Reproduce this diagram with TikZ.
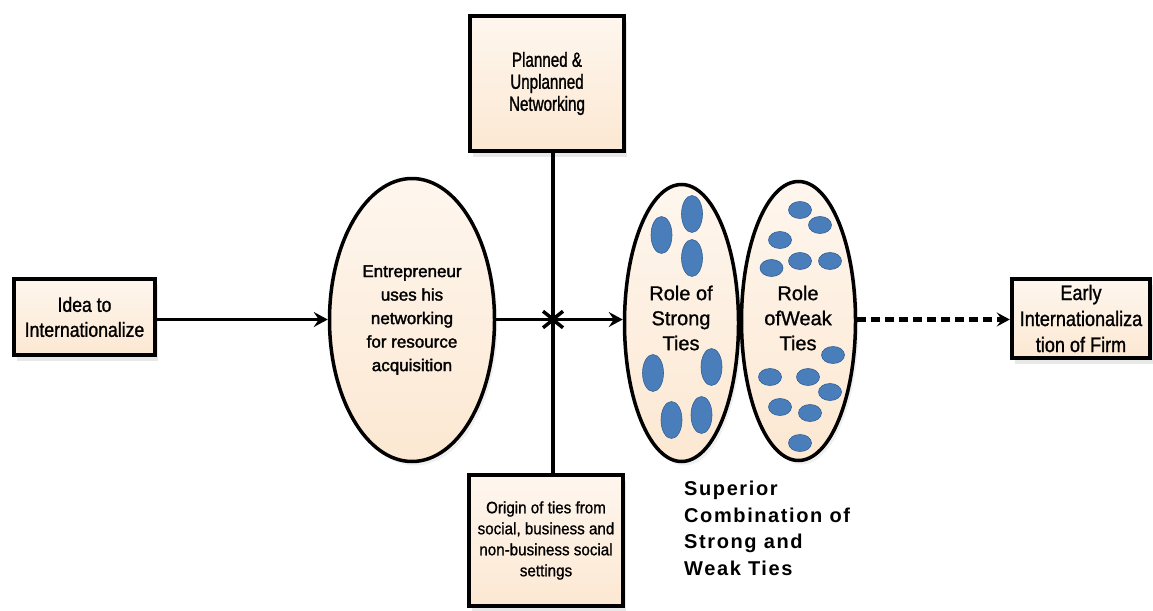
\documentclass[tikz,border=0pt]{standalone}
\usepackage{fontspec}
\setmainfont{Liberation Sans}
\newfontfamily\fnarrow[FakeStretch=0.86,FakeBold=1.2]{Liberation Sans}
\newfontfamily\fnarrower[FakeStretch=0.74,FakeBold=1.2]{Liberation Sans}
\newfontfamily\fslight[FakeStretch=0.92,FakeBold=1.0]{Liberation Sans}
\newfontfamily\fent[FakeBold=1.8]{Liberation Sans}
\newfontfamily\frole[FakeBold=1.0]{Liberation Sans}
\newfontfamily\fsup[LetterSpace=8]{Liberation Sans Bold}
\usetikzlibrary{arrows.meta,shapes.geometric,shadows}
\definecolor{peach}{RGB}{252,232,210}
\definecolor{peachlight}{RGB}{254,246,238}
\definecolor{dotblue}{RGB}{74,126,187}
\definecolor{dotedge}{RGB}{52,96,150}
\begin{document}
\begin{tikzpicture}[x=1pt,y=-1pt,
  box/.style={draw=black,line width=4.5pt,rectangle,inner sep=2pt,align=center,
    top color=peachlight,bottom color=peach,
    drop shadow={opacity=0.18,shadow xshift=3pt,shadow yshift=-6pt}},
  oval/.style={draw=black,line width=3.5pt,ellipse,inner sep=0pt,align=center,
    top color=peachlight,bottom color=peach,
    drop shadow={opacity=0.12,shadow xshift=3pt,shadow yshift=-4pt}},
  conn/.style={line width=3.5pt,-{Stealth[length=14pt,width=15pt,inset=5pt]}},
  barb/.style={line width=3.5pt,-{Straight Barb[length=8pt,width=20pt,line width=3.5pt]}},
  dashconn/.style={line width=4.5pt,dash pattern=on 9pt off 5pt,-{Stealth[length=13pt,width=14pt,inset=5pt]}},
  vdot/.style={fill=dotblue,draw=dotedge,line width=0.6pt},
]
\useasboundingbox (0,0) rectangle (1153,610);

\node[box,minimum width=141pt,minimum height=76pt,font=\fnarrow\fontsize{20.5}{25}\selectfont] (idea) at (84.5,317) {Idea to\\Internationalize};

\node[oval,minimum width=165pt,minimum height=283pt,font=\fent\fontsize{17}{23.5}\selectfont] (ent) at (412,320) {Entrepreneur\\uses his\\networking\\for resource\\acquisition};

\node[box,minimum width=154pt,minimum height=135pt,font=\fnarrower\fontsize{20.5}{22}\selectfont] (plan) at (547,83.5) {Planned \&\\Unplanned\\Networking};

\node[box,minimum width=154pt,minimum height=131pt,font=\fslight\fontsize{16.5}{21}\selectfont] (orig) at (546,540.5) {Origin of ties from\\social, business and\\non-business social\\settings};

\node[oval,minimum width=114pt,minimum height=277pt] (strong) at (681.5,323) {};
\node[oval,minimum width=114pt,minimum height=279pt] (weak) at (798.5,321) {};

% dots strong ties
\foreach \p in {(661.5,235),(692,214),(692,258),(653,373),(711.5,367),(671.5,420),(701.5,415)}
  \fill[vdot] \p ellipse [x radius=10.5pt,y radius=18.5pt];
% dots weak ties
\foreach \p in {(800,210),(820,225),(780,240),(771.5,268),(800,261),(830,261),(833,355),(770,377),(808,377),(830,392),(780,407),(810,413),(800,443)}
  \fill[vdot] \p ellipse [x radius=11.5pt,y radius=8.5pt];

\node[font=\frole\fontsize{20}{25}\selectfont,align=center] (strongtxt) at (681,318) {Role of\\Strong\\Ties};
\node[font=\frole\fontsize{20}{25}\selectfont,align=center] (weaktxt) at (798,318) {Role\\of\hspace{0pt}Weak\\Ties};

\node[box,minimum width=138pt,minimum height=79pt,inner sep=1pt,font=\fnarrow\fontsize{21}{26}\selectfont] (early) at (1081,318.5) {Early\\Internationaliza\\tion of Firm};

\node[anchor=north west,align=left,inner sep=0pt,font=\fsup\fontsize{20}{26.5}\selectfont] (sup) at (684,481) {Superior\\Combination of\\Strong and\\Weak Ties};

\coordinate (cross) at (553,319.5);
\draw[conn] (idea.east |- 0,319.5) -- (ent.west |- 0,319.5);
\draw[conn] (ent.east |- 0,319.5) -- (strong.west |- 0,319.5);
\draw[barb] (plan.south -| cross) -- ([yshift=-2pt]cross);
\draw[barb] (orig.north -| cross) -- ([yshift=2pt]cross);
\draw[dashconn] (weak.east |- 0,319.5) -- (early.west |- 0,319.5);
\end{tikzpicture}
\end{document}
